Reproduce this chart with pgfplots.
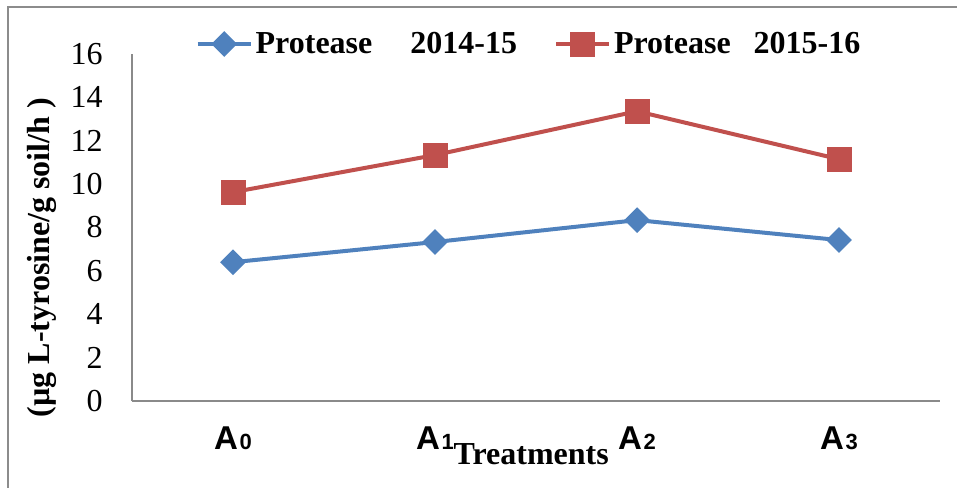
\documentclass[border=0pt]{standalone}
\usepackage{fontspec}
\setmainfont{Liberation Serif}
\setsansfont{Liberation Sans}
\usepackage{pgfplots}
\pgfplotsset{compat=1.18}
\definecolor{sblue}{HTML}{4F81BD}
\definecolor{sred}{HTML}{C0504D}
\definecolor{framegray}{HTML}{8C8C8C}
\definecolor{axgray}{HTML}{8A8A8A}
\newcommand{\cat}[1]{{\sffamily\bfseries A\kern0.8pt{\fontsize{11}{12}\selectfont #1}}}
\begin{document}
\begin{tikzpicture}
\useasboundingbox (0,0) rectangle (478.5pt,243.5pt);
\draw[framegray, line width=1pt] (4pt,-10pt) rectangle (490pt,240pt);
\begin{axis}[
  at={(66pt,43pt)}, anchor=south west,
  scale only axis, width=404pt, height=173.5pt,
  xmin=-0.5, xmax=3.5, ymin=0, ymax=16,
  axis x line*=bottom, axis y line*=left,
  axis line style={axgray, line width=0.75pt, -},
  xtick={0,1,2,3},
  xticklabels={\cat{0},\cat{1},\cat{2},\cat{3}},
  ytick={0,2,...,16},
  major tick length=0pt,
  /pgf/number format/assume math mode=true,
  yticklabel style={font=\fontsize{16}{18}\selectfont, anchor=east, inner sep=0pt, xshift=-14.5pt},
  xticklabel style={font=\fontsize{16.5}{18}\selectfont, anchor=base, inner sep=0pt, yshift=-24pt},
  xlabel={\textbf{Treatments}},
  xlabel style={font=\fontsize{16}{18}\selectfont, at={(axis description cs:0.494,-0.1844)}, anchor=base, inner sep=0pt},
  ylabel={\textbf{(µg L-tyrosine/g soil/h )}},
  ylabel style={font=\fontsize{16}{18}\selectfont, at={(axis description cs:-0.1114,0.4135)}, anchor=center, inner sep=0pt},
  legend columns=2,
  legend style={at={(axis description cs:0.492,1.0288)}, anchor=center, draw=none, fill=none,
    font=\fontsize{16}{18}\selectfont\bfseries, inner sep=0pt,
    nodes={inner sep=1.5pt},
    /tikz/every even column/.append style={column sep=17pt}},
  legend image code/.code={%
    \draw[mark repeat=2,mark phase=2,#1] plot coordinates {(0pt,0pt) (13.25pt,0pt) (26.5pt,0pt)};},
]
\addplot[sblue, line width=2pt, mark=square*, mark size=3.55pt, mark options={rotate=45, solid}]
  coordinates {(0,6.40) (1,7.33) (2,8.34) (3,7.42)};
\addlegendentry{Protease\hspace{19pt}2014-15}
\addplot[sred, line width=2pt, mark=square*, mark size=5.25pt, mark options={solid}]
  coordinates {(0,9.63) (1,11.34) (2,13.36) (3,11.15)};
\addlegendentry{Protease\hspace{11.5pt}2015-16}
\end{axis}
\end{tikzpicture}
\end{document}
